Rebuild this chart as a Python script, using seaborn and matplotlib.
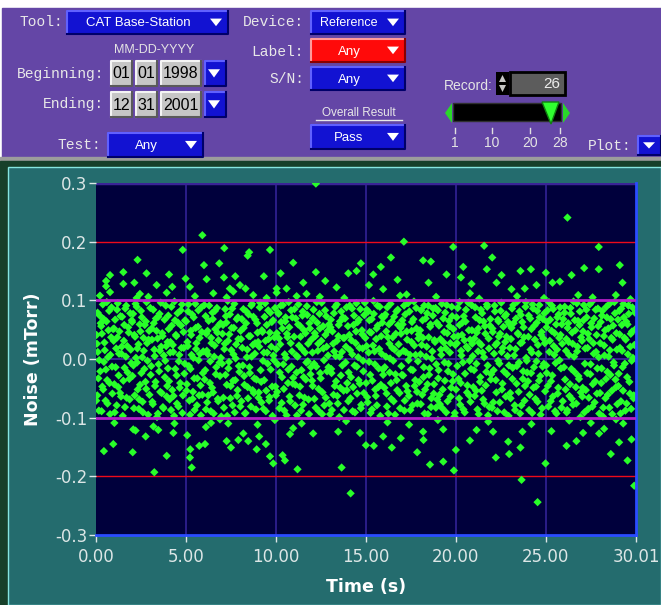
import numpy as np
import pandas as pd
import matplotlib
matplotlib.use("Agg")
import matplotlib.pyplot as plt
import seaborn as sns
from matplotlib.patches import Rectangle, Polygon


# Messwerte im Band -0.1 .. 0.1 (Zeit in s, Rauschen in mTorr), erster Durchgang
band_time = [
    0.03, 0.07, 0.10, 0.16, 0.21, 0.24, 0.29, 0.35, 0.38, 0.44, 0.47, 0.53, 0.58, 0.62, 0.67, 0.73, 0.78, 0.84, 0.89, 0.95,
    1.02, 1.06, 1.12, 1.15, 1.21, 1.26, 1.30, 1.34, 1.41, 1.45, 1.49, 1.55, 1.59, 1.63, 1.70, 1.74, 1.79, 1.85, 1.90, 1.96,
    2.01, 2.08, 2.11, 2.17, 2.22, 2.26, 2.32, 2.36, 2.40, 2.47, 2.52, 2.55, 2.61, 2.66, 2.71, 2.75, 2.81, 2.86, 2.92, 2.97,
    3.04, 3.09, 3.13, 3.18, 3.24, 3.28, 3.33, 3.39, 3.42, 3.48, 3.53, 3.57, 3.62, 3.68, 3.72, 3.77, 3.83, 3.88, 3.93, 3.98,
    4.02, 4.06, 4.12, 4.17, 4.21, 4.27, 4.31, 4.36, 4.41, 4.46, 4.50, 4.56, 4.60, 4.65, 4.71, 4.75, 4.80, 4.86, 4.91, 4.95,
    5.03, 5.08, 5.12, 5.16, 5.23, 5.27, 5.31, 5.37, 5.43, 5.46, 5.52, 5.56, 5.61, 5.67, 5.70, 5.76, 5.81, 5.85, 5.91, 5.96,
    6.02, 6.07, 6.13, 6.18, 6.22, 6.26, 6.33, 6.38, 6.42, 6.47, 6.51, 6.57, 6.63, 6.66, 6.72, 6.77, 6.81, 6.87, 6.92, 6.96,
    7.01, 7.06, 7.11, 7.16, 7.22, 7.27, 7.32, 7.36, 7.41, 7.47, 7.52, 7.57, 7.62, 7.66, 7.71, 7.76, 7.82, 7.87, 7.91, 7.97,
    8.04, 8.08, 8.13, 8.19, 8.23, 8.28, 8.34, 8.38, 8.43, 8.48, 8.53, 8.58, 8.61, 8.67, 8.72, 8.77, 8.83, 8.86, 8.92, 8.98,
    9.03, 9.07, 9.12, 9.18, 9.22, 9.28, 9.31, 9.37, 9.42, 9.46, 9.51, 9.57, 9.62, 9.66, 9.71, 9.77, 9.81, 9.86, 9.92, 9.97,
    10.02, 10.07, 10.12, 10.17, 10.21, 10.27, 10.32, 10.36, 10.41, 10.47, 10.52, 10.56, 10.61, 10.67, 10.71, 10.76, 10.82, 10.87, 10.91, 10.96,
    11.03, 11.08, 11.13, 11.17, 11.23, 11.28, 11.31, 11.37, 11.42, 11.47, 11.51, 11.56, 11.62, 11.66, 11.72, 11.77, 11.81, 11.86, 11.92, 11.97,
    12.01, 12.06, 12.12, 12.16, 12.21, 12.27, 12.33, 12.37, 12.42, 12.46, 12.52, 12.57, 12.62, 12.67, 12.73, 12.77, 12.82, 12.88, 12.92, 12.97,
    13.03, 13.07, 13.11, 13.18, 13.22, 13.27, 13.32, 13.38, 13.41, 13.47, 13.52, 13.56, 13.61, 13.67, 13.72, 13.76, 13.81, 13.87, 13.92, 13.96,
    14.02, 14.08, 14.12, 14.17, 14.23, 14.26, 14.31, 14.37, 14.43, 14.47, 14.51, 14.57, 14.61, 14.66, 14.72, 14.78, 14.82, 14.86, 14.91, 14.97,
    15.04, 15.07, 15.13, 15.18, 15.21, 15.26, 15.32, 15.36, 15.42, 15.48, 15.52, 15.57, 15.61, 15.66, 15.71, 15.77, 15.83, 15.87, 15.91, 15.96,
    16.03, 16.08, 16.11, 16.17, 16.22, 16.28, 16.32, 16.37, 16.41, 16.46, 16.52, 16.57, 16.62, 16.66, 16.71, 16.77, 16.82, 16.87, 16.93, 16.97,
    17.02, 17.07, 17.12, 17.16, 17.21, 17.27, 17.31, 17.37, 17.42, 17.47, 17.53, 17.56, 17.61, 17.67, 17.71, 17.76, 17.81, 17.86, 17.92, 17.96,
    18.03, 18.07, 18.13, 18.17, 18.22, 18.26, 18.32, 18.38, 18.42, 18.47, 18.51, 18.57, 18.62, 18.66, 18.72, 18.77, 18.81, 18.87, 18.91, 18.96,
    19.02, 19.06, 19.11, 19.17, 19.22, 19.27, 19.33, 19.37, 19.41, 19.46, 19.52, 19.56, 19.62, 19.67, 19.71, 19.77, 19.82, 19.86, 19.92, 19.97,
    20.04, 20.08, 20.12, 20.18, 20.21, 20.27, 20.31, 20.36, 20.42, 20.47, 20.51, 20.56, 20.62, 20.67, 20.72, 20.76, 20.81, 20.87, 20.91, 20.97,
    21.01, 21.07, 21.12, 21.16, 21.23, 21.27, 21.32, 21.36, 21.41, 21.46, 21.52, 21.57, 21.61, 21.66, 21.72, 21.77, 21.82, 21.86, 21.92, 21.96,
    22.03, 22.08, 22.12, 22.17, 22.22, 22.28, 22.31, 22.37, 22.42, 22.46, 22.52, 22.56, 22.61, 22.67, 22.72, 22.77, 22.81, 22.87, 22.93, 22.97,
    23.02, 23.06, 23.12, 23.16, 23.21, 23.27, 23.32, 23.37, 23.42, 23.47, 23.51, 23.57, 23.61, 23.67, 23.72, 23.76, 23.82, 23.87, 23.91, 23.96,
    24.03, 24.07, 24.13, 24.18, 24.22, 24.26, 24.31, 24.37, 24.42, 24.48, 24.52, 24.56, 24.62, 24.66, 24.71, 24.77, 24.82, 24.86, 24.92, 24.96,
    25.02, 25.08, 25.11, 25.17, 25.22, 25.27, 25.32, 25.36, 25.41, 25.47, 25.51, 25.57, 25.62, 25.66, 25.71, 25.76, 25.82, 25.87, 25.91, 25.97,
    26.04, 26.07, 26.12, 26.16, 26.21, 26.27, 26.31, 26.37, 26.42, 26.46, 26.51, 26.57, 26.61, 26.67, 26.72, 26.76, 26.81, 26.87, 26.92, 26.96,
    27.03, 27.07, 27.11, 27.17, 27.22, 27.27, 27.32, 27.36, 27.41, 27.47, 27.52, 27.57, 27.61, 27.66, 27.71, 27.77, 27.82, 27.86, 27.91, 27.97,
    28.02, 28.08, 28.12, 28.17, 28.23, 28.26, 28.31, 28.36, 28.42, 28.47, 28.53, 28.56, 28.61, 28.67, 28.71, 28.77, 28.81, 28.87, 28.92, 28.97,
    29.03, 29.08, 29.12, 29.17, 29.22, 29.27, 29.31, 29.37, 29.42, 29.46, 29.52, 29.56, 29.61, 29.67, 29.72, 29.77, 29.81, 29.87, 29.92, 29.98,
]
band_noise = [
    0.041, -0.062, 0.012, -0.088, 0.074, -0.021, 0.056, -0.047, 0.093, -0.005, 0.028, -0.071, 0.064, -0.036, 0.003, 0.082, -0.094, 0.037, -0.013, 0.051,
    -0.043, 0.067, 0.018, -0.079, 0.095, -0.028, 0.047, -0.058, 0.009, 0.072, -0.097, 0.031, -0.015, 0.086, -0.066, 0.022, 0.054, -0.034, 0.078, -0.007,
    0.063, -0.011, -0.084, 0.038, 0.002, 0.089, -0.052, 0.025, -0.069, 0.047, -0.024, 0.071, -0.091, 0.014, 0.058, -0.039, 0.097, -0.003, 0.033, -0.061,
    -0.027, 0.052, -0.073, 0.084, 0.016, -0.046, 0.069, -0.099, 0.035, -0.009, 0.077, -0.056, 0.021, 0.044, -0.082, 0.006, -0.031, 0.091, -0.064, 0.029,
    0.074, -0.038, 0.011, -0.087, 0.057, 0.024, -0.063, 0.098, -0.017, 0.039, -0.076, 0.062, -0.004, -0.049, 0.083, 0.019, -0.092, 0.046, -0.025, 0.066,
    -0.054, 0.029, 0.081, -0.012, -0.095, 0.048, 0.007, -0.068, 0.071, -0.033, 0.094, 0.017, -0.079, 0.055, -0.002, 0.036, -0.045, 0.088, -0.061, 0.013,
    0.092, -0.019, 0.043, -0.074, 0.008, 0.065, -0.041, -0.089, 0.027, 0.079, -0.057, 0.004, 0.051, -0.026, 0.087, -0.068, 0.032, -0.006, 0.061, -0.098,
    -0.008, 0.058, -0.083, 0.026, 0.073, -0.044, 0.099, -0.016, 0.042, -0.067, 0.015, 0.086, -0.037, 0.053, -0.091, 0.001, 0.068, -0.053, 0.034, -0.022,
    0.048, -0.072, 0.019, 0.085, -0.029, -0.093, 0.061, 0.003, -0.048, 0.076, -0.014, 0.039, -0.081, 0.094, 0.024, -0.058, 0.009, 0.067, -0.035, 0.045,
    -0.066, 0.021, 0.096, -0.039, 0.049, -0.003, -0.085, 0.072, 0.031, -0.054, 0.011, 0.083, -0.071, 0.045, -0.018, 0.063, -0.097, 0.006, 0.037, -0.047,
    0.017, -0.056, 0.079, 0.035, -0.023, 0.091, -0.075, 0.052, -0.009, -0.088, 0.064, 0.002, 0.043, -0.041, 0.097, -0.064, 0.027, -0.013, 0.071, -0.032,
    0.085, -0.044, 0.006, -0.096, 0.059, 0.023, -0.062, 0.038, -0.019, 0.074, -0.078, 0.049, 0.011, -0.035, 0.090, -0.004, -0.069, 0.061, -0.026, 0.033,
    -0.037, 0.069, -0.008, 0.044, -0.083, 0.097, 0.014, -0.051, 0.077, -0.024, 0.031, -0.094, 0.056, -0.002, 0.083, -0.066, 0.021, 0.048, -0.014, -0.076,
    0.054, -0.017, -0.087, 0.026, 0.078, -0.046, 0.005, 0.093, -0.063, 0.039, -0.099, 0.064, -0.028, 0.012, 0.071, -0.054, 0.036, -0.006, 0.088, -0.041,
    -0.072, 0.041, 0.015, -0.031, 0.086, -0.089, 0.058, -0.011, 0.027, 0.095, -0.059, 0.003, 0.067, -0.042, -0.084, 0.049, 0.018, -0.021, 0.075, 0.036,
    0.022, -0.065, 0.081, -0.005, 0.046, -0.092, 0.068, -0.037, 0.099, 0.013, -0.052, 0.034, -0.079, 0.057, -0.016, 0.089, -0.044, 0.009, 0.062, -0.027,
    -0.049, 0.076, 0.004, -0.081, 0.037, 0.059, -0.023, 0.094, -0.068, 0.019, -0.003, 0.072, -0.095, 0.043, -0.036, 0.084, 0.025, -0.058, 0.053, -0.012,
    0.066, -0.028, 0.091, -0.071, 0.012, 0.047, -0.055, -0.002, 0.081, -0.087, 0.029, 0.063, -0.019, 0.098, -0.046, 0.007, 0.052, -0.076, 0.035, -0.039,
    0.008, 0.083, -0.061, 0.036, -0.014, -0.093, 0.069, 0.021, -0.043, 0.091, -0.027, 0.055, -0.082, 0.001, 0.074, -0.059, 0.032, 0.087, -0.009, -0.069,
    -0.033, 0.057, -0.077, 0.016, 0.094, -0.052, 0.028, -0.006, 0.079, -0.091, 0.044, -0.021, 0.065, 0.011, -0.064, 0.089, -0.038, 0.051, -0.098, 0.024,
    0.071, -0.012, 0.039, -0.067, 0.097, -0.041, 0.006, 0.062, -0.086, 0.032, -0.025, 0.084, -0.057, 0.018, 0.049, -0.003, -0.073, 0.092, 0.026, -0.048,
    -0.019, 0.088, -0.054, 0.045, 0.013, -0.094, 0.066, -0.031, 0.024, 0.078, -0.069, 0.003, 0.056, -0.045, 0.093, -0.011, 0.035, -0.082, 0.068, -0.026,
    0.052, -0.074, 0.009, 0.081, -0.036, 0.027, -0.089, 0.064, -0.008, 0.043, 0.096, -0.052, 0.019, -0.021, 0.073, -0.064, 0.038, 0.005, -0.097, 0.059,
    -0.058, 0.034, 0.086, -0.015, 0.061, -0.079, 0.017, -0.042, 0.098, 0.042, -0.006, -0.093, 0.075, 0.028, -0.034, 0.054, -0.071, 0.089, 0.002, -0.023,
    0.038, -0.087, 0.069, -0.024, 0.011, 0.093, -0.049, 0.057, -0.068, -0.004, 0.082, 0.024, -0.037, 0.071, -0.095, 0.046, -0.013, 0.035, 0.078, -0.055,
    -0.011, 0.063, -0.046, 0.097, 0.031, -0.072, 0.048, -0.028, 0.085, 0.007, -0.089, 0.059, 0.016, -0.059, 0.076, -0.002, 0.041, -0.083, 0.026, 0.068,
    0.079, -0.035, 0.014, -0.091, 0.053, 0.029, -0.063, 0.087, -0.017, 0.045, -0.078, 0.004, 0.066, -0.048, 0.095, 0.021, -0.029, 0.058, -0.099, 0.037,
    -0.064, 0.047, 0.092, -0.008, -0.053, 0.071, 0.019, -0.085, 0.034, -0.026, 0.061, 0.098, -0.043, 0.009, -0.074, 0.084, 0.041, -0.016, 0.056, -0.093,
    0.027, -0.041, 0.074, -0.098, 0.039, 0.006, -0.067, 0.089, -0.022, 0.052, -0.083, 0.015, 0.068, -0.054, 0.033, -0.006, 0.097, -0.035, 0.044, -0.077,
    -0.046, 0.082, 0.019, -0.072, 0.058, -0.014, 0.094, 0.036, -0.088, 0.064, -0.031, 0.008, 0.077, -0.059, 0.043, -0.003, 0.088, -0.067, 0.024, 0.051,
]

# zweiter Durchgang im Band
band2_time = [
    0.01, 0.05, 0.09, 0.13, 0.18, 0.26, 0.31, 0.33, 0.40, 0.43, 0.49, 0.55, 0.60, 0.64, 0.69, 0.75, 0.80, 0.86, 0.91, 0.98,
    1.00, 1.04, 1.09, 1.17, 1.19, 1.24, 1.28, 1.36, 1.39, 1.43, 1.52, 1.57, 1.61, 1.66, 1.68, 1.76, 1.82, 1.87, 1.93, 1.99,
    2.03, 2.06, 2.13, 2.15, 2.20, 2.28, 2.30, 2.38, 2.43, 2.45, 2.50, 2.57, 2.59, 2.64, 2.69, 2.77, 2.79, 2.84, 2.90, 2.95,
    3.02, 3.07, 3.11, 3.16, 3.21, 3.26, 3.31, 3.36, 3.44, 3.46, 3.51, 3.55, 3.60, 3.65, 3.70, 3.75, 3.81, 3.85, 3.90, 3.96,
    4.00, 4.04, 4.09, 4.14, 4.19, 4.24, 4.29, 4.34, 4.39, 4.44, 4.48, 4.53, 4.58, 4.63, 4.68, 4.73, 4.78, 4.83, 4.88, 4.93,
    5.01, 5.05, 5.10, 5.14, 5.19, 5.25, 5.29, 5.34, 5.39, 5.41, 5.48, 5.54, 5.58, 5.63, 5.69, 5.73, 5.78, 5.83, 5.88, 5.94,
    6.04, 6.09, 6.11, 6.16, 6.20, 6.24, 6.29, 6.35, 6.40, 6.45, 6.49, 6.54, 6.59, 6.61, 6.68, 6.74, 6.79, 6.84, 6.89, 6.94,
    7.03, 7.08, 7.13, 7.18, 7.20, 7.25, 7.29, 7.34, 7.39, 7.44, 7.49, 7.54, 7.59, 7.64, 7.69, 7.74, 7.79, 7.84, 7.89, 7.94,
    8.02, 8.06, 8.11, 8.16, 8.21, 8.25, 8.31, 8.36, 8.41, 8.45, 8.50, 8.55, 8.63, 8.65, 8.70, 8.75, 8.80, 8.84, 8.89, 8.95,
    9.01, 9.05, 9.10, 9.15, 9.20, 9.25, 9.33, 9.35, 9.40, 9.44, 9.49, 9.54, 9.59, 9.64, 9.69, 9.74, 9.79, 9.84, 9.89, 9.95,
    10.00, 10.05, 10.10, 10.15, 10.19, 10.24, 10.29, 10.34, 10.39, 10.44, 10.49, 10.54, 10.59, 10.64, 10.69, 10.74, 10.79, 10.84, 10.89, 10.94,
    11.01, 11.06, 11.10, 11.15, 11.20, 11.25, 11.34, 11.35, 11.40, 11.45, 11.49, 11.54, 11.59, 11.64, 11.69, 11.74, 11.79, 11.84, 11.89, 11.94,
    12.03, 12.04, 12.09, 12.14, 12.19, 12.24, 12.29, 12.35, 12.39, 12.44, 12.49, 12.54, 12.59, 12.64, 12.69, 12.75, 12.79, 12.84, 12.90, 12.95,
    13.01, 13.05, 13.09, 13.14, 13.20, 13.24, 13.29, 13.34, 13.39, 13.44, 13.49, 13.54, 13.58, 13.63, 13.69, 13.74, 13.78, 13.84, 13.89, 13.94,
    14.00, 14.04, 14.10, 14.14, 14.19, 14.24, 14.29, 14.34, 14.39, 14.45, 14.49, 14.54, 14.59, 14.64, 14.69, 14.74, 14.80, 14.84, 14.89, 14.94,
    15.01, 15.05, 15.10, 15.15, 15.19, 15.24, 15.29, 15.34, 15.39, 15.44, 15.50, 15.55, 15.59, 15.64, 15.69, 15.74, 15.80, 15.85, 15.89, 15.94,
    16.01, 16.05, 16.13, 16.15, 16.19, 16.25, 16.30, 16.34, 16.39, 16.44, 16.49, 16.54, 16.59, 16.64, 16.69, 16.74, 16.79, 16.84, 16.90, 16.95,
    17.00, 17.04, 17.09, 17.14, 17.19, 17.24, 17.29, 17.34, 17.39, 17.45, 17.50, 17.54, 17.59, 17.64, 17.69, 17.74, 17.79, 17.84, 17.89, 17.94,
    18.01, 18.05, 18.10, 18.15, 18.20, 18.24, 18.29, 18.35, 18.40, 18.45, 18.49, 18.54, 18.59, 18.64, 18.69, 18.74, 18.79, 18.84, 18.89, 18.94,
    19.00, 19.04, 19.09, 19.14, 19.19, 19.25, 19.30, 19.35, 19.39, 19.44, 19.49, 19.54, 19.59, 19.64, 19.69, 19.74, 19.79, 19.84, 19.89, 19.94,
    20.01, 20.06, 20.10, 20.15, 20.20, 20.24, 20.29, 20.34, 20.39, 20.44, 20.49, 20.54, 20.59, 20.64, 20.69, 20.74, 20.79, 20.84, 20.89, 20.94,
    21.04, 21.05, 21.10, 21.14, 21.20, 21.25, 21.29, 21.34, 21.39, 21.44, 21.49, 21.54, 21.59, 21.64, 21.69, 21.74, 21.79, 21.84, 21.89, 21.94,
    22.01, 22.05, 22.10, 22.15, 22.20, 22.25, 22.34, 22.35, 22.39, 22.44, 22.49, 22.54, 22.59, 22.64, 22.69, 22.74, 22.79, 22.84, 22.90, 22.95,
    23.00, 23.04, 23.09, 23.14, 23.19, 23.24, 23.29, 23.34, 23.39, 23.44, 23.49, 23.54, 23.59, 23.64, 23.69, 23.74, 23.79, 23.84, 23.89, 23.94,
    24.01, 24.05, 24.10, 24.15, 24.20, 24.24, 24.29, 24.34, 24.39, 24.45, 24.50, 24.54, 24.59, 24.64, 24.69, 24.74, 24.79, 24.84, 24.89, 24.94,
    25.04, 25.05, 25.09, 25.14, 25.19, 25.24, 25.29, 25.34, 25.39, 25.44, 25.49, 25.54, 25.59, 25.64, 25.69, 25.74, 25.79, 25.84, 25.89, 25.94,
    26.01, 26.05, 26.10, 26.14, 26.19, 26.24, 26.29, 26.34, 26.39, 26.44, 26.49, 26.54, 26.59, 26.64, 26.69, 26.74, 26.79, 26.84, 26.89, 26.94,
    27.01, 27.05, 27.09, 27.14, 27.19, 27.25, 27.30, 27.34, 27.39, 27.44, 27.49, 27.54, 27.59, 27.64, 27.69, 27.74, 27.79, 27.84, 27.89, 27.94,
    28.01, 28.05, 28.10, 28.14, 28.19, 28.24, 28.29, 28.34, 28.39, 28.44, 28.49, 28.54, 28.59, 28.64, 28.69, 28.74, 28.79, 28.84, 28.90, 28.95,
    29.01, 29.05, 29.10, 29.15, 29.19, 29.24, 29.29, 29.34, 29.39, 29.44, 29.49, 29.54, 29.59, 29.64, 29.69, 29.74, 29.79, 29.84, 29.89, 29.95,
]
band2_noise = [
    -0.071, 0.026, 0.079, -0.033, -0.002, 0.061, -0.089, 0.043, -0.052, 0.068, 0.015, -0.018, 0.097, -0.076, 0.049, -0.041, 0.007, 0.088, -0.059, 0.031,
    0.052, -0.091, -0.014, 0.084, 0.037, -0.048, 0.009, 0.073, -0.064, 0.021, -0.037, 0.058, -0.082, 0.004, 0.091, -0.023, 0.045, -0.069, 0.016, 0.066,
    -0.029, 0.077, 0.041, -0.062, 0.094, -0.006, 0.018, -0.085, 0.059, -0.044, 0.082, 0.003, -0.073, 0.036, -0.017, 0.064, -0.051, 0.027, -0.095, 0.048,
    0.087, -0.012, 0.033, -0.077, 0.061, 0.005, -0.039, 0.048, -0.093, 0.072, -0.021, 0.014, 0.096, -0.058, 0.039, -0.084, 0.067, -0.003, 0.022, -0.046,
    -0.016, 0.051, -0.069, 0.029, 0.089, -0.053, 0.012, -0.097, 0.066, 0.041, -0.028, 0.078, -0.081, 0.007, -0.041, 0.057, 0.093, -0.062, 0.019, -0.008,
    0.064, -0.043, 0.022, 0.093, -0.071, -0.017, 0.041, 0.076, -0.056, 0.002, -0.087, 0.053, 0.027, -0.033, 0.083, -0.062, 0.009, -0.096, 0.046, -0.024,
    -0.035, 0.073, -0.086, 0.014, 0.048, -0.062, 0.091, -0.004, 0.036, -0.049, 0.068, -0.093, 0.023, 0.082, -0.014, 0.045, -0.072, 0.058, -0.029, 0.002,
    0.043, -0.066, 0.017, 0.085, -0.027, 0.062, -0.097, 0.031, -0.005, 0.076, -0.046, 0.053, -0.079, 0.008, 0.094, -0.036, 0.025, -0.063, 0.071, -0.012,
    -0.081, 0.034, 0.068, -0.011, 0.053, -0.044, -0.092, 0.081, 0.016, -0.067, 0.039, -0.024, 0.091, 0.004, -0.053, 0.072, -0.033, 0.027, -0.086, 0.061,
    0.029, -0.057, 0.088, -0.019, -0.074, 0.046, 0.011, -0.036, 0.095, -0.089, 0.058, -0.008, 0.034, -0.065, 0.079, 0.021, -0.047, 0.066, -0.002, 0.087,
    -0.062, 0.044, -0.009, 0.077, -0.084, 0.025, 0.063, -0.031, 0.092, -0.051, 0.008, 0.071, -0.096, 0.037, -0.018, 0.054, -0.072, 0.083, 0.013, -0.042,
    0.038, -0.079, 0.069, -0.023, 0.004, 0.093, -0.047, 0.056, -0.088, 0.017, 0.081, -0.031, -0.066, 0.044, -0.006, 0.075, 0.026, -0.094, 0.052, -0.014,
    0.011, -0.046, 0.084, -0.068, 0.039, -0.013, 0.062, 0.026, -0.089, 0.052, -0.033, 0.096, -0.057, 0.018, -0.079, 0.041, 0.073, -0.021, 0.006, 0.059,
    -0.094, 0.067, -0.024, 0.047, -0.061, 0.013, 0.089, -0.038, 0.031, -0.076, 0.058, 0.004, -0.049, 0.081, -0.011, 0.036, -0.087, 0.069, 0.021, -0.053,
    0.056, -0.023, 0.091, -0.067, 0.032, 0.008, -0.048, 0.074, -0.091, 0.047, -0.013, 0.063, -0.036, 0.019, 0.085, -0.078, 0.042, -0.003, -0.058, 0.096,
    -0.041, 0.084, -0.074, 0.011, 0.066, -0.027, 0.045, -0.086, 0.023, 0.077, -0.009, -0.063, 0.052, 0.091, -0.048, 0.017, -0.097, 0.039, 0.072, -0.018,
    0.072, -0.014, 0.047, -0.059, 0.088, -0.093, 0.026, 0.001, -0.041, 0.064, 0.037, -0.072, 0.016, -0.026, 0.081, -0.053, 0.058, 0.009, -0.084, 0.043,
    -0.027, 0.059, 0.014, -0.088, 0.076, -0.046, 0.033, 0.095, -0.063, 0.007, -0.018, 0.048, -0.079, 0.068, 0.023, -0.036, 0.087, -0.056, -0.004, 0.042,
    0.049, -0.077, 0.024, 0.066, -0.031, 0.091, -0.052, 0.004, 0.078, -0.094, 0.037, -0.016, 0.059, -0.067, 0.013, 0.086, -0.043, 0.029, -0.083, 0.062,
    0.083, -0.019, -0.061, 0.034, 0.007, -0.084, 0.069, 0.046, -0.037, 0.018, 0.092, -0.072, -0.008, 0.056, 0.027, -0.049, 0.073, -0.026, 0.038, -0.092,
    -0.052, 0.027, 0.087, -0.034, 0.058, -0.078, 0.014, 0.041, -0.006, 0.073, -0.091, 0.064, 0.021, -0.045, 0.096, -0.062, 0.033, -0.017, 0.049, 0.005,
    0.035, -0.063, 0.071, -0.008, -0.086, 0.052, 0.028, -0.039, 0.084, -0.054, 0.011, 0.064, -0.076, 0.043, -0.022, 0.089, -0.096, 0.018, 0.057, -0.035,
    -0.083, 0.046, -0.019, 0.091, 0.024, -0.057, 0.067, -0.003, 0.038, -0.074, 0.082, 0.012, -0.042, 0.055, -0.091, 0.029, 0.076, -0.026, 0.063, -0.011,
    0.019, -0.067, 0.053, -0.034, 0.092, 0.006, -0.087, 0.069, -0.012, 0.044, -0.056, 0.081, 0.027, -0.079, 0.063, -0.021, 0.037, -0.046, 0.097, -0.003,
    -0.038, 0.074, -0.061, 0.016, 0.051, -0.092, 0.086, -0.014, 0.033, -0.047, 0.062, -0.073, 0.009, 0.092, -0.029, 0.041, -0.084, 0.068, -0.008, 0.027,
    0.054, -0.024, 0.083, -0.081, 0.012, 0.067, -0.038, 0.091, -0.064, 0.022, 0.044, -0.007, -0.093, 0.071, -0.049, 0.036, 0.088, -0.016, 0.059, -0.072,
    -0.014, 0.089, -0.052, 0.034, -0.087, 0.061, 0.007, -0.043, 0.077, -0.068, 0.026, 0.098, -0.022, 0.049, -0.076, 0.013, 0.065, -0.034, 0.081, -0.057,
    0.031, -0.049, 0.066, -0.091, 0.018, 0.084, -0.024, 0.043, -0.066, 0.093, -0.009, 0.054, -0.081, 0.027, 0.069, -0.038, 0.012, -0.059, 0.086, 0.003,
    -0.058, 0.063, -0.016, 0.082, -0.083, 0.023, 0.049, -0.034, 0.071, -0.061, 0.004, 0.094, -0.027, 0.036, -0.094, 0.057, -0.011, 0.078, -0.048, 0.016,
    0.067, -0.025, 0.042, -0.093, 0.086, 0.014, -0.054, 0.071, -0.008, 0.033, -0.076, 0.059, 0.091, -0.039, 0.021, -0.085, 0.047, 0.002, -0.062, 0.079,
]

# Ausreisser oberhalb +0.1
high_time = [
    12.22, 5.91, 4.82, 7.13, 8.43, 8.51, 9.67, 2.31, 6.00, 6.85, 10.96, 1.52, 2.81, 0.78, 4.06, 4.98, 6.15, 7.11,
    7.74, 9.33, 10.26, 12.22, 12.74, 0.56, 0.56, 1.52, 2.13, 3.37, 4.24, 5.22, 8.00, 8.31, 7.44, 11.52, 10.59, 10.04,
    26.20, 17.11, 19.85, 21.57, 27.94, 16.39, 18.18, 18.61, 22.02, 14.72, 15.83, 20.41, 21.72, 23.59, 24.17, 25.00,
    27.13, 27.94, 29.11, 14.02, 14.48, 15.41, 16.76, 18.48, 19.48, 20.28, 20.87, 22.54, 22.26, 23.09, 23.83, 24.48,
    25.78, 26.43, 25.37, 29.26, 28.89, 13.37, 15.17, 15.96, 17.26, 20.78,
    0.22, 0.78, 2.26, 2.44, 2.91, 3.93, 5.50, 6.52, 7.26, 7.63, 8.74, 9.48, 10.04, 11.15, 11.70, 12.44,
    13.80, 16.90, 18.90, 21.30, 23.40, 24.90, 26.80, 27.60, 29.70,
]
high_noise = [
    0.299, 0.211, 0.186, 0.189, 0.176, 0.182, 0.186, 0.169, 0.160, 0.163, 0.164, 0.148, 0.146, 0.143, 0.144, 0.137, 0.136, 0.139,
    0.141, 0.141, 0.146, 0.148, 0.133, 0.133, 0.124, 0.128, 0.130, 0.126, 0.123, 0.123, 0.126, 0.120, 0.120, 0.130, 0.120, 0.120,
    0.241, 0.200, 0.191, 0.193, 0.191, 0.173, 0.168, 0.166, 0.173, 0.163, 0.157, 0.157, 0.153, 0.150, 0.153, 0.147,
    0.155, 0.153, 0.160, 0.146, 0.150, 0.144, 0.135, 0.130, 0.144, 0.139, 0.128, 0.143, 0.130, 0.119, 0.120, 0.126,
    0.132, 0.143, 0.130, 0.130, 0.109, 0.122, 0.126, 0.119, 0.110, 0.112,
    0.108, 0.114, 0.104, 0.111, 0.106, 0.113, 0.107, 0.112, 0.105, 0.115, 0.109, 0.104, 0.113, 0.107, 0.111, 0.106,
    0.104, 0.108, 0.106, 0.103, 0.107, 0.104, 0.109, 0.105, 0.102,
]

# Ausreisser unterhalb -0.1
low_time = [
    3.24, 5.32, 5.22, 5.24, 3.93, 2.04, 0.96, 0.44, 9.85, 9.67, 10.37, 10.50, 11.20, 8.93, 9.44, 7.50, 7.91, 8.46,
    7.26, 5.74, 6.06, 2.76, 4.30, 3.46, 2.07, 2.20, 5.07, 6.11, 8.19, 9.07, 10.78, 12.07, 10.96, 11.43, 3.19, 4.36,
    6.39, 6.89, 7.35, 8.98, 9.94, 1.02,
    13.65, 14.15, 18.56, 19.30, 19.89, 20.00, 17.85, 16.44, 15.44, 15.00, 22.22, 22.96, 23.59, 22.91, 23.65, 24.54,
    24.98, 26.15, 26.70, 28.61, 29.54, 29.91, 29.07, 29.76, 20.78, 18.20, 16.94, 25.31, 27.07, 22.07, 23.70, 13.46,
    14.67, 15.96, 18.18, 19.30, 21.15, 27.96, 28.24, 29.30,
    13.90, 16.20, 17.40, 19.00, 21.80, 24.20, 26.30, 27.50, 28.90,
]
low_noise = [
    -0.193, -0.185, -0.168, -0.154, -0.165, -0.159, -0.145, -0.157, -0.178, -0.166, -0.164, -0.173, -0.188, -0.154, -0.145, -0.151, -0.138, -0.140,
    -0.140, -0.148, -0.145, -0.132, -0.126, -0.121, -0.120, -0.122, -0.130, -0.116, -0.127, -0.132, -0.128, -0.127, -0.118, -0.110, -0.115, -0.110,
    -0.109, -0.103, -0.110, -0.112, -0.104, -0.109,
    -0.185, -0.229, -0.180, -0.175, -0.190, -0.155, -0.159, -0.151, -0.148, -0.147, -0.168, -0.162, -0.151, -0.141, -0.206, -0.244,
    -0.178, -0.148, -0.140, -0.162, -0.173, -0.216, -0.142, -0.137, -0.139, -0.138, -0.135, -0.123, -0.126, -0.124, -0.124, -0.124,
    -0.126, -0.132, -0.124, -0.120, -0.121, -0.127, -0.119, -0.110,
    -0.106, -0.108, -0.112, -0.104, -0.107, -0.111, -0.105, -0.109, -0.103,
]

x_ticks = [0, 5, 10, 15, 20, 25, 30.01]
x_ticklabels = ["0.00", "5.00", "10.00", "15.00", "20.00", "25.00", "30.01"]
y_ticks = [-0.3, -0.2, -0.1, 0.0, 0.1, 0.2, 0.3]
y_ticklabels = ["-0.3", "-0.2", "-0.1", "0.0", "0.1", "0.2", "0.3"]

df = pd.DataFrame({
    "time": band_time + band2_time + high_time + low_time,
    "noise": band_noise + band2_noise + high_noise + low_noise,
})

W, H = 661, 605
PURPLE = "#6446a6"
TEAL = "#246c6e"
BLUE = "#1212d2"
LABEL_FONT = dict(family="Liberation Mono", fontsize=10.5, color="#e8e8e8")
UI_FONT = "Liberation Sans"

fig = plt.figure(figsize=(W / 100, H / 100), dpi=100)

# Hintergrund in Pixelkoordinaten
bg = fig.add_axes([0, 0, 1, 1])
bg.set_xlim(0, W)
bg.set_ylim(H, 0)
bg.axis("off")

bg.add_patch(Rectangle((0, 0), W, H, color="white"))
bg.add_patch(Rectangle((2, 8), W - 2, 150, color=PURPLE))
bg.add_patch(Rectangle((0, 157), W, 4, color="#9c9c9c"))
bg.add_patch(Rectangle((0, 161), W, H - 161, color="#17402a"))
bg.add_patch(Rectangle((8, 167), W - 8, H - 167, fc=TEAL, ec="#86e6e0", lw=1))


def bevel_box(x, y, w, h, face, light, dark):
    bg.add_patch(Rectangle((x, y), w, h, fc=face, ec="none"))
    bg.plot([x, x, x + w], [y + h, y, y], color=light, lw=1.5)
    bg.plot([x, x + w, x + w], [y + h, y + h, y], color=dark, lw=1.5)


def dropdown(x, y, w, h, text, face=BLUE, light="#6060ff", dark="#00006a", size=9.5):
    bevel_box(x, y, w, h, face, light, dark)
    cx = x + w - 12
    bg.add_patch(Polygon([(cx - 6, y + h * 0.33), (cx + 6, y + h * 0.33), (cx, y + h * 0.66)],
                         closed=True, fc="white", ec="none"))
    if text:
        bg.text(x + (w - 22) / 2 + 2, y + h / 2 + 1, text, ha="center", va="center",
                color="white", fontsize=size, family=UI_FONT)


def date_box(x, y, w, text):
    bevel_box(x, y, w, 25, "#c6c6c6", "#f4f4f4", "#5a5a5a")
    bg.text(x + w / 2, y + 13, text, ha="center", va="center", color="black",
            fontsize=11.5, family=UI_FONT)


# Bedienelemente oben
bg.text(63, 22, "Tool:", ha="right", va="center", **LABEL_FONT)
dropdown(67, 11, 161, 23, "CAT Base-Station")
bg.text(304, 22, "Device:", ha="right", va="center", **LABEL_FONT)
dropdown(311, 11, 94, 23, "Reference", size=9)

bg.text(154, 50, "MM-DD-YYYY", ha="center", va="center", color="#e4e4e4", fontsize=9, family=UI_FONT)
bg.text(304, 52, "Label:", ha="right", va="center", **LABEL_FONT)
dropdown(311, 39, 94, 23, "Any", face="#ff0a0a", light="#ff9a9a", dark="#8a0000")

bg.text(104, 74, "Beginning:", ha="right", va="center", **LABEL_FONT)
date_box(111, 61, 21, "01")
date_box(136, 61, 21, "01")
date_box(161, 61, 40, "1998")
dropdown(205, 61, 21, 25, "")

bg.text(304, 79, "S/N:", ha="right", va="center", **LABEL_FONT)
dropdown(311, 67, 94, 23, "Any")

bg.text(104, 104, "Ending:", ha="right", va="center", **LABEL_FONT)
date_box(111, 92, 21, "12")
date_box(136, 92, 21, "31")
date_box(161, 92, 40, "2001")
dropdown(205, 92, 21, 25, "")

bg.text(359, 113, "Overall Result", ha="center", va="center", color="#e8e8e8", fontsize=8.5, family=UI_FONT)
bg.plot([316, 402], [119.5, 119.5], color="#e8e8e8", lw=1)
dropdown(311, 125, 94, 24, "Pass")

bg.text(101, 145, "Test:", ha="right", va="center", **LABEL_FONT)
dropdown(108, 133, 95, 24, "Any")

# Record-Anzeige und Schieberegler
bg.text(493, 86, "Record:", ha="right", va="center", color="#e4e4e4", fontsize=10, family=UI_FONT)
bg.add_patch(Rectangle((496, 72), 13, 23, fc="black", ec="none"))
bg.add_patch(Polygon([(499, 82), (506, 82), (502.5, 75)], fc="#c8c8c8", ec="none"))
bg.add_patch(Polygon([(499, 85), (506, 85), (502.5, 92)], fc="#c8c8c8", ec="none"))
bg.add_patch(Rectangle((510, 72), 55, 23, fc="#5c5c5c", ec="black", lw=2))
bg.text(560, 84, "26", ha="right", va="center", color="#ececec", fontsize=11, family=UI_FONT)

bg.add_patch(Rectangle((453, 103), 108, 18, fc="black", ec="#303030", lw=1))
bg.add_patch(Polygon([(452, 103), (445, 113), (452, 123)], fc="#2ad82a", ec="none"))
bg.add_patch(Polygon([(563, 103), (570, 113), (563, 123)], fc="#2ad82a", ec="none"))
bg.add_patch(Polygon([(542, 102), (559, 102), (551, 124)], fc="#30ff30", ec="#108010", lw=1))
for tx, tl in zip([455, 492, 530, 560], ["1", "10", "20", "28"]):
    bg.plot([tx, tx], [128, 133], color="#e0e0e0", lw=1)
    bg.text(tx, 143, tl, ha="center", va="center", color="#e4e4e4", fontsize=10, family=UI_FONT)

bg.text(632, 146, "Plot:", ha="right", va="center", **LABEL_FONT)
dropdown(638, 136, 23, 19, "")

# Diagramm
ax = fig.add_axes([96 / W, 1 - 535 / H, 540 / W, 352 / H])
ax.set_facecolor("#00003c")

for xv in [5, 10, 15, 20, 25]:
    ax.axvline(xv, color="#2e2090", lw=1.3, zorder=1)
ax.axhline(0.0, color="#3a2496", lw=1.3, zorder=1)
ax.axhline(0.3, color="#3a2496", lw=2.5, zorder=1)
for yv in [0.2, -0.2]:
    ax.axhline(yv, color="#ee0a1a", lw=1, zorder=1)

sns.scatterplot(data=df, x="time", y="noise", ax=ax, marker="D", s=18,
                color="#28ff28", edgecolor="none", linewidth=0, legend=False, zorder=2)

for yv in [0.1, -0.1]:
    ax.axhline(yv, color="#b41ec8", lw=2, zorder=3)

ax.set_xlim(0, 30.01)
ax.set_ylim(-0.3, 0.3)
ax.set_xticks(x_ticks)
ax.set_xticklabels(x_ticklabels)
ax.set_yticks(y_ticks)
ax.set_yticklabels(y_ticklabels)
ax.tick_params(axis="both", colors="#dce6e6", labelsize=12, length=5, width=1)
ax.tick_params(axis="y", pad=1)
ax.tick_params(axis="x", pad=4)

for side in ["top", "left"]:
    ax.spines[side].set_visible(False)
for side in ["bottom", "right"]:
    ax.spines[side].set_color("#2a4cff")
    ax.spines[side].set_linewidth(2)

ax.set_xlabel("Time (s)", color="white", fontsize=12.5, fontweight="bold", labelpad=9)
ax.set_ylabel("Noise (mTorr)", color="white", fontsize=12.5, fontweight="bold", labelpad=10)

fig.savefig("out.png", dpi=100)
